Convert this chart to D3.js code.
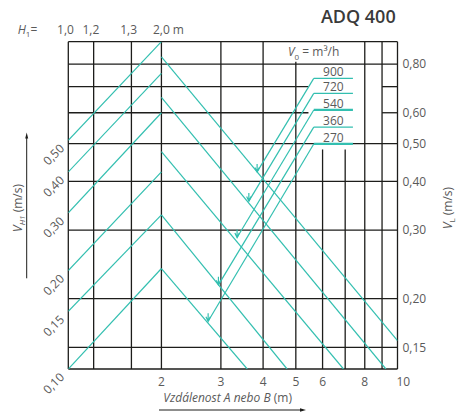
<!DOCTYPE html>
<html>
<head>
<meta charset="utf-8">
<script src="https://cdn.jsdelivr.net/npm/d3@7"></script>
<style>
body { margin: 0; background: #fff; }
svg { display: block; font-family: "Open Sans", sans-serif; }
.grid line { stroke: #1d1d1b; stroke-width: 1.3; }
.teal { fill: none; stroke: #33bfb0; stroke-width: 1.2; }
.lbl { fill: #5a5a5a; font-size: 12px; }
</style>
</head>
<body>
<svg></svg>
<script>
// distance axis (m)
var distTicks = [2, 3, 4, 5, 6, 8, 10];
var distGrid = [2, 3, 4, 5, 6, 7, 8, 9, 10];
// H1 lines in the left part, given in distance units
var h1Labels = ["1,0", "1,2", "1,3", "2,0 m"];
var h1Dist = [1.06, 1.26, 1.63, 2];
// V_L (right) and V_H1 (left) axes
var vlTicks = [0.15, 0.2, 0.3, 0.4, 0.5, 0.6, 0.8];
var vlGrid = [0.15, 0.2, 0.3, 0.4, 0.5, 0.6, 0.7, 0.8];
var vhTicks = [0.1, 0.15, 0.2, 0.3, 0.4, 0.5];

// rising lines: V_H1 at left edge -> V_L on the 2,0 m line
var h1StartV = [0.5, 0.4, 0.3, 0.2, 0.15, 0.1];
var h1EndV = [0.913, 0.757, 0.600, 0.423, 0.328, 0.239];

// throw lines starting on the 2,0 m line
var throwStartV = [0.835, 0.657, 0.477, 0.328, 0.239];
var throwEndDist = [10, 9.24, 6.92, 4.71, 3.59];
var throwEndV = [0.156, 0.132, 0.132, 0.132, 0.132];

// airflow V0 (m3/h) lines
var flowLabels = ["900", "720", "540", "360", "270"];
var flowLegendV = [0.735, 0.673, 0.610, 0.551, 0.499];
var flowEndDist = [3.84, 3.63, 3.35, 2.95, 2.75];
var flowEndV = [0.423, 0.356, 0.287, 0.217, 0.175];
var flowLegendDist = [5.65, 7.38];

var svgWidth = 458, svgHeight = 412;
var plotLeft = 68.3, plotRight = 397.5, plotTop = 41.7, plotBottom = 369;

var svg = d3.select("svg").attr("width", svgWidth).attr("height", svgHeight);

var x = d3.scaleLog().domain([1.06, 10]).range([plotLeft, plotRight]);
var y = d3.scaleLog().domain([0.132, 0.913]).range([plotBottom, plotTop]);
var yH = d3.scaleLog().domain([0.1, 1]).range([plotBottom, plotTop]);

svg.append("defs").append("clipPath").attr("id", "plot")
	.append("rect")
	.attr("x", plotLeft).attr("y", plotTop)
	.attr("width", plotRight - plotLeft).attr("height", plotBottom - plotTop);

// grid
var grid = svg.append("g").attr("class", "grid");

var vLines = h1Dist.slice(0, 3).concat(distGrid);
grid.selectAll("line.v")
	.data(vLines)
	.enter()
	.append("line")
	.attr("x1", function(d) { return x(d); })
	.attr("x2", function(d) { return x(d); })
	.attr("y1", function(d) {
		// gaps left for the V0 legend
		if (d === 5) return y(0.811);
		if (d === 6 || d === 7) return y(0.483);
		return plotTop;
	})
	.attr("y2", plotBottom);

var hSegs = [];
vlGrid.forEach(function(v) {
	if (v === 0.6 || v === 0.7) {
		hSegs.push([v, 1.06, 5.45]);
		hSegs.push([v, 9, 10]);
	} else {
		hSegs.push([v, 1.06, 10]);
	}
});
grid.selectAll("line.h")
	.data(hSegs)
	.enter()
	.append("line")
	.attr("x1", function(d) { return x(d[1]); })
	.attr("x2", function(d) { return x(d[2]); })
	.attr("y1", function(d) { return y(d[0]); })
	.attr("y2", function(d) { return y(d[0]); });

grid.selectAll("line.frame")
	.data([plotTop, plotBottom])
	.enter()
	.append("line")
	.attr("x1", plotLeft).attr("x2", plotRight)
	.attr("y1", function(d) { return d; })
	.attr("y2", function(d) { return d; });

// teal lines
var lines = svg.append("g").attr("clip-path", "url(#plot)");
var line = d3.line();

lines.selectAll("path.h1")
	.data(h1StartV)
	.enter()
	.append("path")
	.attr("class", "teal")
	.attr("d", function(d, i) {
		return line([[x(h1Dist[0]), yH(d)], [x(2), y(h1EndV[i])]]);
	});

lines.selectAll("path.throw")
	.data(throwStartV)
	.enter()
	.append("path")
	.attr("class", "teal")
	.attr("d", function(d, i) {
		return line([[x(2), y(d)], [x(throwEndDist[i]), y(throwEndV[i])]]);
	});

lines.selectAll("path.flow")
	.data(flowLegendV)
	.enter()
	.append("path")
	.attr("class", "teal")
	.attr("d", function(d, i) {
		return line([[x(flowEndDist[i]), y(flowEndV[i])], [x(flowLegendDist[0]), y(d)]]);
	});

lines.selectAll("path.legend")
	.data(flowLegendV)
	.enter()
	.append("path")
	.attr("class", "teal")
	.style("stroke-width", function(d, i) { return (i === 2 || i === 4) ? 2.2 : 1.2; })
	.attr("d", function(d) {
		return line([[x(flowLegendDist[0]), y(d)], [x(flowLegendDist[1]), y(d)]]);
	});

// small arrows where the V0 lines meet the throw lines
lines.selectAll("path.arrow")
	.data(flowEndDist)
	.enter()
	.append("path")
	.attr("class", "teal")
	.attr("d", function(d, i) {
		var px = x(d), py = y(flowEndV[i]);
		return "M" + px + "," + (py - 8) + "L" + px + "," + py +
			"M" + (px - 2.2) + "," + (py - 4.5) + "L" + px + "," + py + "L" + (px + 2.2) + "," + (py - 4.5);
	});

// legend labels
svg.selectAll("text.flow")
	.data(flowLabels)
	.enter()
	.append("text")
	.attr("class", "lbl")
	.attr("x", (x(flowLegendDist[0]) + x(flowLegendDist[1])) / 2)
	.attr("y", function(d, i) { return y(flowLegendV[i]) - 2; })
	.attr("text-anchor", "middle")
	.text(function(d) { return d; });

var v0 = svg.append("text").attr("class", "lbl").attr("x", 288).attr("y", 56);
v0.append("tspan").style("font-style", "italic").text("V");
v0.append("tspan").attr("dy", 4).style("font-size", "8px").text("0");
v0.append("tspan").attr("dy", -4).text(" = m\u00b3/h");

// x axis labels
svg.selectAll("text.xt")
	.data(distTicks)
	.enter()
	.append("text")
	.attr("class", "lbl")
	.attr("x", function(d) { return d === 10 ? x(d) - 1 : x(d); })
	.attr("y", 385.5)
	.attr("text-anchor", function(d) { return d === 10 ? "start" : "middle"; })
	.text(function(d) { return d; });

var xt = svg.append("text").attr("class", "lbl").attr("x", 163.3).attr("y", 401.7);
xt.append("tspan").style("font-style", "italic").text("Vzdálenost A nebo B");
xt.append("tspan").text(" (m)");

svg.append("line")
	.attr("x1", 159).attr("x2", 303).attr("y1", 410).attr("y2", 410)
	.attr("stroke", "#1d1d1b").attr("stroke-width", 1);
svg.append("path")
	.attr("d", "M306,410L300,408.3L300,411.7Z")
	.attr("fill", "#1d1d1b");

// right axis labels
svg.selectAll("text.yr")
	.data(vlTicks)
	.enter()
	.append("text")
	.attr("class", "lbl")
	.attr("x", 402.5)
	.attr("y", function(d) { return y(d) + 4.3; })
	.text(function(d) { return d3.format(".2f")(d).replace(".", ","); });

var yr = svg.append("text").attr("class", "lbl")
	.attr("transform", "translate(451.5,208) rotate(-90)")
	.attr("text-anchor", "middle");
yr.append("tspan").style("font-style", "italic").text("V");
yr.append("tspan").attr("dy", 3).style("font-size", "8px").text("L");
yr.append("tspan").attr("dy", -3).text(" (m/s)");

// left axis labels (rotated)
svg.selectAll("text.yl")
	.data(vhTicks)
	.enter()
	.append("text")
	.attr("class", "lbl")
	.attr("text-anchor", "end")
	.attr("transform", function(d) {
		return "translate(65," + (yH(d) + 9) + ") rotate(-45)";
	})
	.text(function(d) { return d3.format(".2f")(d).replace(".", ","); });

var yl = svg.append("text").attr("class", "lbl")
	.attr("transform", "translate(22,208) rotate(-90)")
	.attr("text-anchor", "middle");
yl.append("tspan").style("font-style", "italic").text("V");
yl.append("tspan").attr("dy", 3).style("font-size", "8px").style("font-style", "italic").text("H1");
yl.append("tspan").attr("dy", -3).text(" (m/s)");

svg.append("line")
	.attr("x1", 26.7).attr("x2", 26.7).attr("y1", 278.3).attr("y2", 137)
	.attr("stroke", "#1d1d1b").attr("stroke-width", 1);
svg.append("path")
	.attr("d", "M26.7,132.5L25.2,138.5L28.2,138.5Z")
	.attr("fill", "#1d1d1b");

// H1 row
var h1 = svg.append("text").attr("class", "lbl").attr("x", 17.7).attr("y", 34.3);
h1.append("tspan").style("font-style", "italic").text("H");
h1.append("tspan").attr("dy", 3).style("font-size", "8px").text("1");
h1.append("tspan").attr("dy", -3).text("=");

svg.selectAll("text.h1")
	.data(h1Labels)
	.enter()
	.append("text")
	.attr("class", "lbl")
	.attr("x", function(d, i) { return i === 3 ? x(h1Dist[i]) - 8.5 : x(h1Dist[i]) - 2.8; })
	.attr("y", 34.3)
	.attr("text-anchor", function(d, i) { return i === 3 ? "start" : "middle"; })
	.text(function(d) { return d; });

// title
svg.append("text")
	.attr("x", 395.7)
	.attr("y", 22.5)
	.attr("text-anchor", "end")
	.style("font-size", "18px")
	.style("font-weight", 600)
	.style("fill", "#3a3a3a")
	.text("ADQ 400");
</script>
</body>
</html>
